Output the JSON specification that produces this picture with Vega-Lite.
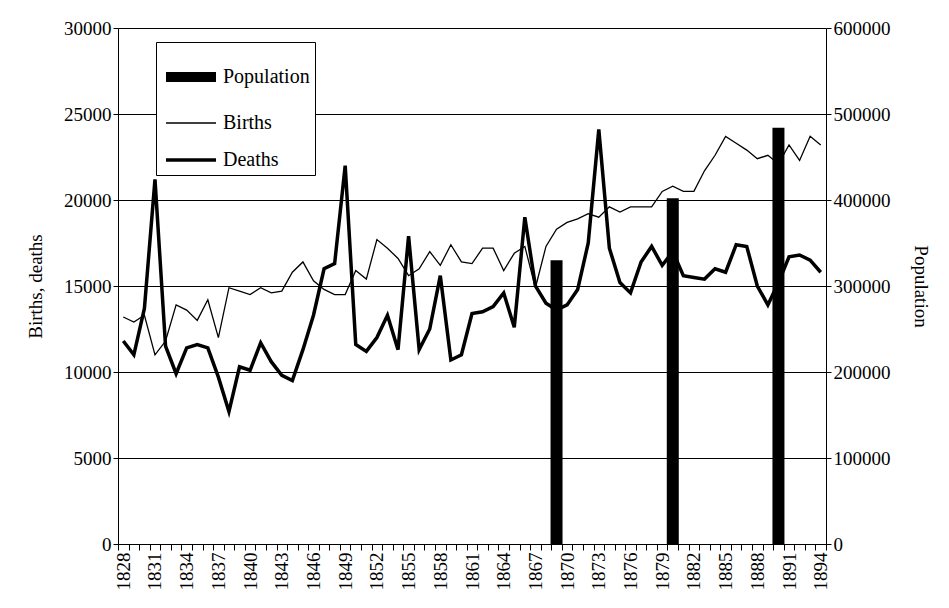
{
  "$schema": "https://vega.github.io/schema/vega-lite/v6.json",
  "width": 708,
  "height": 516,
  "autosize": {"type": "none"},
  "padding": {"left": 118, "top": 28, "right": 123, "bottom": 64},
  "background": "white",
  "config": {
    "font": "Liberation Serif",
    "view": {"stroke": null},
    "axis": {"labelFont": "Liberation Serif", "titleFont": "Liberation Serif", "labelFontSize": 19, "titleFontSize": 19, "titleFontWeight": "normal", "labelColor": "black", "titleColor": "black", "domainColor": "black", "tickColor": "black", "gridColor": "black"},
    "legend": {"labelFont": "Liberation Serif", "labelFontSize": 20, "labelColor": "black"}
  },
  "data": {
    "values": [
      {"year": 1828, "series": "Births", "value": 13200}, {"year": 1829, "series": "Births", "value": 12900}, {"year": 1830, "series": "Births", "value": 13300}, {"year": 1831, "series": "Births", "value": 11000}, {"year": 1832, "series": "Births", "value": 11800}, {"year": 1833, "series": "Births", "value": 13900}, {"year": 1834, "series": "Births", "value": 13600}, {"year": 1835, "series": "Births", "value": 13000}, {"year": 1836, "series": "Births", "value": 14200}, {"year": 1837, "series": "Births", "value": 12000}, {"year": 1838, "series": "Births", "value": 14900}, {"year": 1839, "series": "Births", "value": 14700}, {"year": 1840, "series": "Births", "value": 14500}, {"year": 1841, "series": "Births", "value": 14900}, {"year": 1842, "series": "Births", "value": 14600}, {"year": 1843, "series": "Births", "value": 14700}, {"year": 1844, "series": "Births", "value": 15800}, {"year": 1845, "series": "Births", "value": 16400}, {"year": 1846, "series": "Births", "value": 15300}, {"year": 1847, "series": "Births", "value": 14800}, {"year": 1848, "series": "Births", "value": 14500}, {"year": 1849, "series": "Births", "value": 14500}, {"year": 1850, "series": "Births", "value": 15900}, {"year": 1851, "series": "Births", "value": 15400}, {"year": 1852, "series": "Births", "value": 17700}, {"year": 1853, "series": "Births", "value": 17200}, {"year": 1854, "series": "Births", "value": 16600}, {"year": 1855, "series": "Births", "value": 15600}, {"year": 1856, "series": "Births", "value": 16000}, {"year": 1857, "series": "Births", "value": 17000}, {"year": 1858, "series": "Births", "value": 16200}, {"year": 1859, "series": "Births", "value": 17400}, {"year": 1860, "series": "Births", "value": 16400}, {"year": 1861, "series": "Births", "value": 16300}, {"year": 1862, "series": "Births", "value": 17200}, {"year": 1863, "series": "Births", "value": 17200}, {"year": 1864, "series": "Births", "value": 15900}, {"year": 1865, "series": "Births", "value": 16900}, {"year": 1866, "series": "Births", "value": 17300}, {"year": 1867, "series": "Births", "value": 14900}, {"year": 1868, "series": "Births", "value": 17300}, {"year": 1869, "series": "Births", "value": 18300}, {"year": 1870, "series": "Births", "value": 18700}, {"year": 1871, "series": "Births", "value": 18900}, {"year": 1872, "series": "Births", "value": 19200}, {"year": 1873, "series": "Births", "value": 19000}, {"year": 1874, "series": "Births", "value": 19600}, {"year": 1875, "series": "Births", "value": 19300}, {"year": 1876, "series": "Births", "value": 19600}, {"year": 1877, "series": "Births", "value": 19600}, {"year": 1878, "series": "Births", "value": 19600}, {"year": 1879, "series": "Births", "value": 20500}, {"year": 1880, "series": "Births", "value": 20800}, {"year": 1881, "series": "Births", "value": 20500}, {"year": 1882, "series": "Births", "value": 20500}, {"year": 1883, "series": "Births", "value": 21700}, {"year": 1884, "series": "Births", "value": 22600}, {"year": 1885, "series": "Births", "value": 23700}, {"year": 1886, "series": "Births", "value": 23300}, {"year": 1887, "series": "Births", "value": 22900}, {"year": 1888, "series": "Births", "value": 22400}, {"year": 1889, "series": "Births", "value": 22600}, {"year": 1890, "series": "Births", "value": 22100}, {"year": 1891, "series": "Births", "value": 23200}, {"year": 1892, "series": "Births", "value": 22300}, {"year": 1893, "series": "Births", "value": 23700}, {"year": 1894, "series": "Births", "value": 23200},
      {"year": 1828, "series": "Deaths", "value": 11800}, {"year": 1829, "series": "Deaths", "value": 11000}, {"year": 1830, "series": "Deaths", "value": 13700}, {"year": 1831, "series": "Deaths", "value": 21200}, {"year": 1832, "series": "Deaths", "value": 11500}, {"year": 1833, "series": "Deaths", "value": 9900}, {"year": 1834, "series": "Deaths", "value": 11400}, {"year": 1835, "series": "Deaths", "value": 11600}, {"year": 1836, "series": "Deaths", "value": 11400}, {"year": 1837, "series": "Deaths", "value": 9700}, {"year": 1838, "series": "Deaths", "value": 7700}, {"year": 1839, "series": "Deaths", "value": 10300}, {"year": 1840, "series": "Deaths", "value": 10100}, {"year": 1841, "series": "Deaths", "value": 11700}, {"year": 1842, "series": "Deaths", "value": 10600}, {"year": 1843, "series": "Deaths", "value": 9800}, {"year": 1844, "series": "Deaths", "value": 9500}, {"year": 1845, "series": "Deaths", "value": 11300}, {"year": 1846, "series": "Deaths", "value": 13300}, {"year": 1847, "series": "Deaths", "value": 16000}, {"year": 1848, "series": "Deaths", "value": 16300}, {"year": 1849, "series": "Deaths", "value": 22000}, {"year": 1850, "series": "Deaths", "value": 11600}, {"year": 1851, "series": "Deaths", "value": 11200}, {"year": 1852, "series": "Deaths", "value": 12000}, {"year": 1853, "series": "Deaths", "value": 13300}, {"year": 1854, "series": "Deaths", "value": 11300}, {"year": 1855, "series": "Deaths", "value": 17900}, {"year": 1856, "series": "Deaths", "value": 11300}, {"year": 1857, "series": "Deaths", "value": 12500}, {"year": 1858, "series": "Deaths", "value": 15600}, {"year": 1859, "series": "Deaths", "value": 10700}, {"year": 1860, "series": "Deaths", "value": 11000}, {"year": 1861, "series": "Deaths", "value": 13400}, {"year": 1862, "series": "Deaths", "value": 13500}, {"year": 1863, "series": "Deaths", "value": 13800}, {"year": 1864, "series": "Deaths", "value": 14600}, {"year": 1865, "series": "Deaths", "value": 12600}, {"year": 1866, "series": "Deaths", "value": 19000}, {"year": 1867, "series": "Deaths", "value": 15000}, {"year": 1868, "series": "Deaths", "value": 14000}, {"year": 1869, "series": "Deaths", "value": 13600}, {"year": 1870, "series": "Deaths", "value": 13900}, {"year": 1871, "series": "Deaths", "value": 14800}, {"year": 1872, "series": "Deaths", "value": 17500}, {"year": 1873, "series": "Deaths", "value": 24100}, {"year": 1874, "series": "Deaths", "value": 17200}, {"year": 1875, "series": "Deaths", "value": 15200}, {"year": 1876, "series": "Deaths", "value": 14600}, {"year": 1877, "series": "Deaths", "value": 16400}, {"year": 1878, "series": "Deaths", "value": 17300}, {"year": 1879, "series": "Deaths", "value": 16200}, {"year": 1880, "series": "Deaths", "value": 17000}, {"year": 1881, "series": "Deaths", "value": 15600}, {"year": 1882, "series": "Deaths", "value": 15500}, {"year": 1883, "series": "Deaths", "value": 15400}, {"year": 1884, "series": "Deaths", "value": 16000}, {"year": 1885, "series": "Deaths", "value": 15800}, {"year": 1886, "series": "Deaths", "value": 17400}, {"year": 1887, "series": "Deaths", "value": 17300}, {"year": 1888, "series": "Deaths", "value": 15000}, {"year": 1889, "series": "Deaths", "value": 13900}, {"year": 1890, "series": "Deaths", "value": 15200}, {"year": 1891, "series": "Deaths", "value": 16700}, {"year": 1892, "series": "Deaths", "value": 16800}, {"year": 1893, "series": "Deaths", "value": 16500}, {"year": 1894, "series": "Deaths", "value": 15800},
      {"year": 1869, "series": "Population", "value": 330000}, {"year": 1880, "series": "Population", "value": 402000}, {"year": 1890, "series": "Population", "value": 484000}
    ]
  },
  "encoding": {
    "x": {
      "field": "year", "type": "ordinal", "title": null,
      "scale": {"paddingInner": 0, "paddingOuter": 0},
      "axis": {"labelAngle": -90, "labelAlign": "right", "labelBaseline": "middle", "labelExpr": "(datum.value - 1828) % 3 == 0 ? datum.value : ''", "ticks": true, "tickBand": "extent", "tickSize": 6, "grid": false}
    }
  },
  "layer": [
    {
      "transform": [{"filter": "datum.series == 'Population'"}],
      "mark": {"type": "bar", "size": 12},
      "encoding": {
        "y": {"field": "value", "type": "quantitative", "title": "Population",
          "scale": {"domain": [0, 600000]},
          "axis": {"orient": "right", "values": [0, 100000, 200000, 300000, 400000, 500000, 600000], "format": "d", "grid": false, "titlePadding": 20, "titleAngle": 90}},
        "color": {"value": "black"}
      }
    },
    {
      "transform": [{"filter": "datum.series != 'Population'"}],
      "mark": {"type": "line", "color": "black"},
      "encoding": {
        "y": {"field": "value", "type": "quantitative", "title": "Births, deaths",
          "scale": {"domain": [0, 30000]},
          "axis": {"orient": "left", "values": [0, 5000, 10000, 15000, 20000, 25000, 30000], "format": "d", "grid": true, "titlePadding": 18}},
        "detail": {"field": "series", "type": "nominal"},
        "strokeWidth": {"field": "series", "type": "ordinal",
          "scale": {"type": "ordinal", "domain": ["Population", "Births", "Deaths"], "range": [10, 1.3, 3.5]},
          "legend": {"title": null, "orient": "none", "legendX": 38, "legendY": 14, "symbolType": "stroke", "symbolSize": 2500, "symbolStrokeColor": "black", "rowPadding": -17, "padding": 5, "strokeColor": "black", "fillColor": "white", "labelOffset": 2}}
      }
    }
  ],
  "resolve": {"scale": {"y": "independent"}}
}
